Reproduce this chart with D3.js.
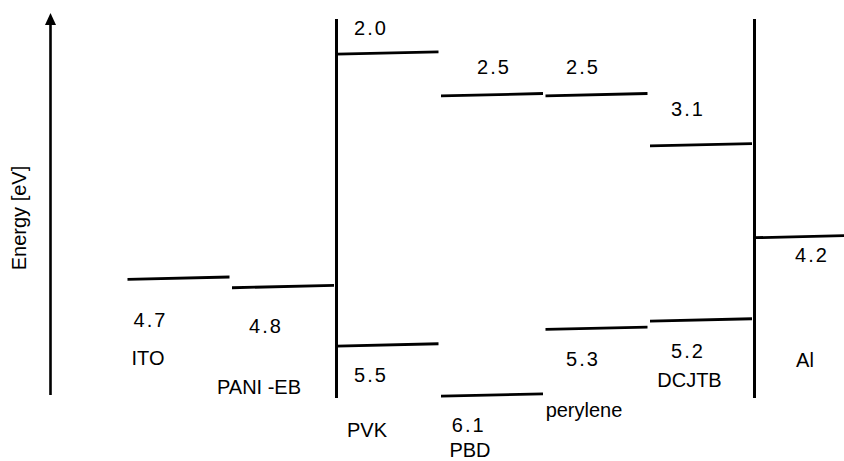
<!DOCTYPE html>
<html>
<head>
<meta charset="utf-8">
<script src="https://cdn.jsdelivr.net/npm/d3@7/dist/d3.min.js"></script>
<style>
  html, body { margin: 0; padding: 0; background: #fff; }
  svg { display: block; }
  text { font-family: "Liberation Sans", Arial, sans-serif; fill: #000; }
</style>
</head>
<body>
<svg id="chart" width="844" height="461"></svg>
<script>
// Layers of the OLED stack, left (anode) to right (cathode)
const materials = ["ITO", "PANI -EB", "PVK", "PBD", "perylene", "DCJTB", "Al"];
// Electrode work functions (eV below vacuum)
const workFunction = [4.7, 4.8, null, null, null, null, 4.2];
// Organic layers: LUMO and HOMO levels (eV below vacuum)
const lumo = [null, null, 2.0, 2.5, 2.5, 3.1, null];
const homo = [null, null, 5.5, 6.1, 5.3, 5.2, null];
// Layers drawn with a solid interface bar on their left side
const interfaceLayers = ["PVK", "Al"];
const axisLabel = "Energy [eV]";

const svg = d3.select("#chart");

// Energy scale: smaller binding energy sits higher on the page
const allLevels = [].concat(workFunction, lumo, homo).filter(v => v != null);
const y = d3.scaleLinear()
  .domain([d3.min(allLevels), d3.max(allLevels)])
  .range([53, 395]);

// One column per layer
const x = d3.scaleBand()
  .domain(materials)
  .range([127.5, 856.5])
  .paddingInner(0.0239)
  .paddingOuter(0);

const levels = [];
materials.forEach((m, i) => {
  if (workFunction[i] != null) levels.push({ m, v: workFunction[i], kind: "wf" });
  if (lumo[i] != null) levels.push({ m, v: lumo[i], kind: "lumo" });
  if (homo[i] != null) levels.push({ m, v: homo[i], kind: "homo" });
});

// Text placement per level label: [dx from column start, dy from level line]
const valueOffset = {
  "ITO|wf": [23, 49],
  "PANI -EB|wf": [34, 46],
  "PVK|lumo": [34.5, -18.5],
  "PVK|homo": [34.5, 37],
  "PBD|lumo": [53, -20.5],
  "PBD|homo": [27.7, 36.5],
  "perylene|lumo": [37.5, -20.5],
  "perylene|homo": [37.5, 38],
  "DCJTB|lumo": [38, -29],
  "DCJTB|homo": [38, 38],
  "Al|wf": [57.5, 25]
};
// Layer name placement: [dx from column start, dy from bottom of energy range]
const nameOffset = {
  "ITO": [20.5, -30],
  "PANI -EB": [27, -1],
  "PVK": [30.5, 42],
  "PBD": [29, 62],
  "perylene": [38.5, 22],
  "DCJTB": [39.5, -8.5],
  "Al": [50.5, -28]
};

const tilt = 2.4; // slight hand-drawn rise of level lines
const yBottom = y.range()[1];
const yTop = y.range()[0];

// Energy axis with arrow head
const axisX = 50.5;
svg.append("line")
  .attr("x1", axisX).attr("x2", axisX)
  .attr("y1", yBottom).attr("y2", yTop - 30)
  .attr("stroke", "#000").attr("stroke-width", 2.6);
svg.append("path")
  .attr("d", `M${axisX},${yTop - 40} L${axisX - 5.5},${yTop - 28} L${axisX + 5.5},${yTop - 28} Z`)
  .attr("fill", "#000");
svg.append("text")
  .attr("transform", `translate(26,218) rotate(-90)`)
  .attr("text-anchor", "middle")
  .style("font-size", "20px")
  .text(axisLabel);

// Interface bars
svg.selectAll("line.interface")
  .data(interfaceLayers)
  .join("line")
  .attr("class", "interface")
  .attr("x1", d => x(d)).attr("x2", d => x(d))
  .attr("y1", yTop - 34).attr("y2", yBottom + 3)
  .attr("stroke", "#000").attr("stroke-width", 3);

// Energy level lines
svg.selectAll("line.level")
  .data(levels)
  .join("line")
  .attr("class", "level")
  .attr("x1", d => x(d.m)).attr("x2", d => x(d.m) + x.bandwidth())
  .attr("y1", d => y(d.v) + tilt / 2).attr("y2", d => y(d.v) - tilt / 2)
  .attr("stroke", "#000").attr("stroke-width", 2.8);

// Level values
svg.selectAll("text.value")
  .data(levels)
  .join("text")
  .attr("class", "value")
  .attr("x", d => x(d.m) + valueOffset[d.m + "|" + d.kind][0])
  .attr("y", d => y(d.v) + valueOffset[d.m + "|" + d.kind][1])
  .attr("text-anchor", "middle")
  .style("font-size", "20px")
  .style("letter-spacing", "2px")
  .text(d => d3.format(".1f")(d.v));

// Layer names
svg.selectAll("text.name")
  .data(materials)
  .join("text")
  .attr("class", "name")
  .attr("x", d => x(d) + nameOffset[d][0])
  .attr("y", d => yBottom + nameOffset[d][1])
  .attr("text-anchor", "middle")
  .style("font-size", "20px")
  .text(d => d);
</script>
</body>
</html>
